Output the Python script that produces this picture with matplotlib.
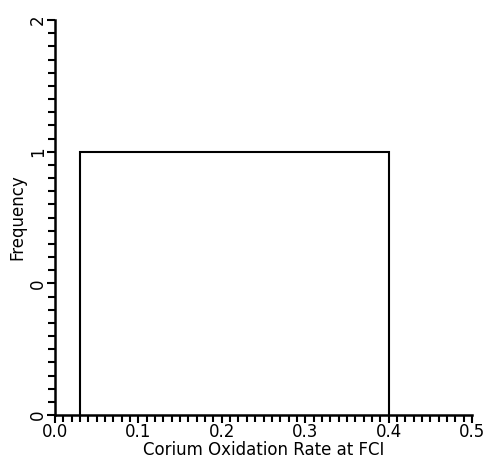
import numpy as np
import matplotlib.pyplot as plt
from matplotlib.ticker import MultipleLocator

# single histogram bin: oxidation rate range and its count
bin_edges = [0.03, 0.40]
counts = [1]

ytick_pos = [0, 0.5, 1.0, 1.5]
ytick_labels = ['0', '0', '1', '2']
xtick_pos = [0.0, 0.1, 0.2, 0.3, 0.4, 0.5]
xtick_labels = ['0.0', '0.1', '0.2', '0.3', '0.4', '0.5']

fig = plt.figure(figsize=(4.84, 4.66), dpi=100)
ax = fig.add_axes([55/484, 1 - 415/466, (472 - 55)/484, (415 - 20)/466])

ax.stairs(counts, bin_edges, color='black', linewidth=1.5)

ax.set_xlim(0, 0.5)
ax.set_ylim(0, 1.5)
ax.set_xticks(xtick_pos)
ax.set_xticklabels(xtick_labels)
ax.set_yticks(ytick_pos)
ax.set_yticklabels(ytick_labels, rotation=90, va='center')
ax.xaxis.set_minor_locator(MultipleLocator(0.01))
ax.yaxis.set_minor_locator(MultipleLocator(0.05))
ax.tick_params(which='both', direction='out', width=1.5, labelsize=12, pad=0)
ax.tick_params(which='major', length=6)
ax.tick_params(which='minor', length=5)

for s in ['top', 'right']:
    ax.spines[s].set_visible(False)
for s in ['left', 'bottom']:
    ax.spines[s].set_linewidth(1.8)

ax.set_xlabel('Corium Oxidation Rate at FCI', fontsize=12, labelpad=0)
ax.set_ylabel('Frequency', fontsize=12, labelpad=2)

fig.savefig('out.png', dpi=100)
